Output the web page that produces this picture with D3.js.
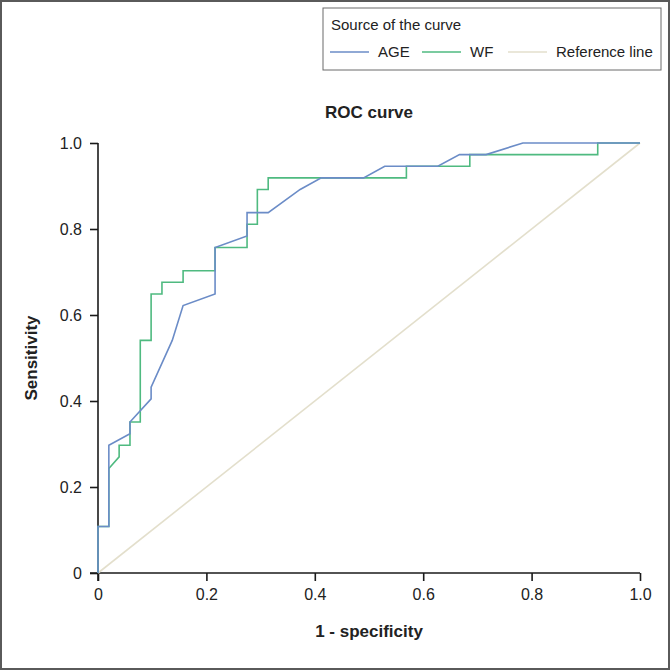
<!DOCTYPE html>
<html>
<head>
<meta charset="utf-8">
<script src="https://cdn.jsdelivr.net/npm/d3@7"></script>
<style>
  body { margin: 0; background: #fff; }
  svg { display: block; font-family: "Liberation Sans", Arial, sans-serif; }
</style>
</head>
<body>
<div id="chart"></div>
<script>
// curve points (1 - specificity, sensitivity)
const ageX = [0, 0, 0.020, 0.020, 0.059, 0.059, 0.098, 0.098, 0.137, 0.157, 0.216, 0.216, 0.275, 0.275, 0.314, 0.373, 0.412, 0.490, 0.529, 0.627, 0.667, 0.716, 0.784, 1.0];
const ageY = [0, 0.108, 0.108, 0.297, 0.324, 0.351, 0.405, 0.432, 0.541, 0.622, 0.649, 0.757, 0.784, 0.838, 0.838, 0.892, 0.919, 0.919, 0.946, 0.946, 0.973, 0.973, 1.0, 1.0];

const wfX = [0, 0, 0.020, 0.020, 0.039, 0.039, 0.059, 0.059, 0.078, 0.078, 0.098, 0.098, 0.118, 0.118, 0.157, 0.157, 0.216, 0.216, 0.275, 0.275, 0.294, 0.294, 0.314, 0.314, 0.569, 0.569, 0.686, 0.686, 0.922, 0.922, 1.0];
const wfY = [0, 0.108, 0.108, 0.243, 0.270, 0.297, 0.297, 0.351, 0.351, 0.541, 0.541, 0.649, 0.649, 0.676, 0.676, 0.703, 0.703, 0.757, 0.757, 0.811, 0.811, 0.892, 0.892, 0.919, 0.919, 0.946, 0.946, 0.973, 0.973, 1.0, 1.0];

const refX = [0, 1];
const refY = [0, 1];

const seriesNames = ["AGE", "WF", "Reference line"];
const seriesColors = ["#6b8cc7", "#4fba80", "#e3dfcc"];
const tickValues = [0, 0.2, 0.4, 0.6, 0.8, 1.0];

const width = 670, height = 670;
const margin = {top: 143, right: 30, bottom: 97, left: 98};
const plotW = width - margin.left - margin.right;
const plotH = height - margin.top - margin.bottom;

const svg = d3.select("#chart").append("svg")
  .attr("width", width)
  .attr("height", height);

// outer frame
svg.append("rect")
  .attr("x", 1).attr("y", 1)
  .attr("width", width - 2).attr("height", height - 2)
  .attr("fill", "none")
  .attr("stroke", "#5a5a5a")
  .attr("stroke-width", 2);

const g = svg.append("g")
  .attr("transform", `translate(${margin.left}, ${margin.top})`);

const x = d3.scaleLinear().domain([0, 1]).range([0, plotW]);
const y = d3.scaleLinear().domain([0, 1]).range([plotH, 0]);

const fmt = d => d === 0 ? "0" : d.toFixed(1);

// axes
const xAxisGroup = g.append("g")
  .attr("transform", `translate(0, ${plotH})`)
  .call(d3.axisBottom(x).tickValues(tickValues).tickFormat(fmt).tickSize(8).tickPadding(8));
const yAxisGroup = g.append("g")
  .call(d3.axisLeft(y).tickValues(tickValues).tickFormat(fmt).tickSize(8).tickPadding(8));

[xAxisGroup, yAxisGroup].forEach(ax => {
  ax.select(".domain").attr("stroke", "#1a1a1a").attr("stroke-width", 1.6);
  ax.selectAll(".tick line").attr("stroke", "#1a1a1a").attr("stroke-width", 1.6);
  ax.selectAll(".tick text")
    .attr("font-size", "16px")
    .attr("font-family", "Liberation Sans, Arial, sans-serif")
    .attr("fill", "#222");
});
// x axis line also runs through the y tick at 0
xAxisGroup.select(".domain").attr("d", `M-8,0H${plotW}`);
yAxisGroup.select(".domain").attr("d", `M0,0V${plotH + 8}`);

// curves
const line = d3.line()
  .x(d => x(d[0]))
  .y(d => y(d[1]));

const curves = [
  {name: "Reference line", pts: d3.zip(refX, refY), color: seriesColors[2]},
  {name: "WF", pts: d3.zip(wfX, wfY), color: seriesColors[1]},
  {name: "AGE", pts: d3.zip(ageX, ageY), color: seriesColors[0]}
];

g.selectAll(".curve")
  .data(curves)
  .join("path")
  .attr("class", "curve")
  .attr("d", d => line(d.pts))
  .attr("fill", "none")
  .attr("stroke", d => d.color)
  .attr("stroke-width", 1.6);

// title
svg.append("text")
  .attr("x", margin.left + plotW / 2)
  .attr("y", 118)
  .attr("text-anchor", "middle")
  .attr("font-size", "17px")
  .attr("font-weight", "bold")
  .attr("fill", "#222")
  .text("ROC curve");

// axis titles
svg.append("text")
  .attr("x", margin.left + plotW / 2)
  .attr("y", 637)
  .attr("text-anchor", "middle")
  .attr("font-size", "17px")
  .attr("font-weight", "bold")
  .attr("fill", "#222")
  .text("1 - specificity");

svg.append("text")
  .attr("transform", `translate(37, ${margin.top + plotH / 2}) rotate(-90)`)
  .attr("text-anchor", "middle")
  .attr("font-size", "17px")
  .attr("font-weight", "bold")
  .attr("fill", "#222")
  .text("Sensitivity");

// legend
const legend = svg.append("g");
legend.append("rect")
  .attr("x", 323).attr("y", 8)
  .attr("width", 338).attr("height", 62)
  .attr("fill", "#fff")
  .attr("stroke", "#6a6a6a")
  .attr("stroke-width", 1);

legend.append("text")
  .attr("x", 331).attr("y", 30)
  .attr("font-size", "15px")
  .attr("fill", "#222")
  .text("Source of the curve");

const legendX = [330, 422, 508];
const items = legend.selectAll(".item")
  .data(seriesNames)
  .join("g")
  .attr("class", "item")
  .attr("transform", (d, i) => `translate(${legendX[i]}, 52)`);

items.append("line")
  .attr("x1", 0).attr("x2", 39)
  .attr("stroke", (d, i) => seriesColors[i])
  .attr("stroke-width", 1.6);

items.append("text")
  .attr("x", 48).attr("y", 5)
  .attr("font-size", "15px")
  .attr("fill", "#222")
  .text(d => d);
</script>
</body>
</html>
